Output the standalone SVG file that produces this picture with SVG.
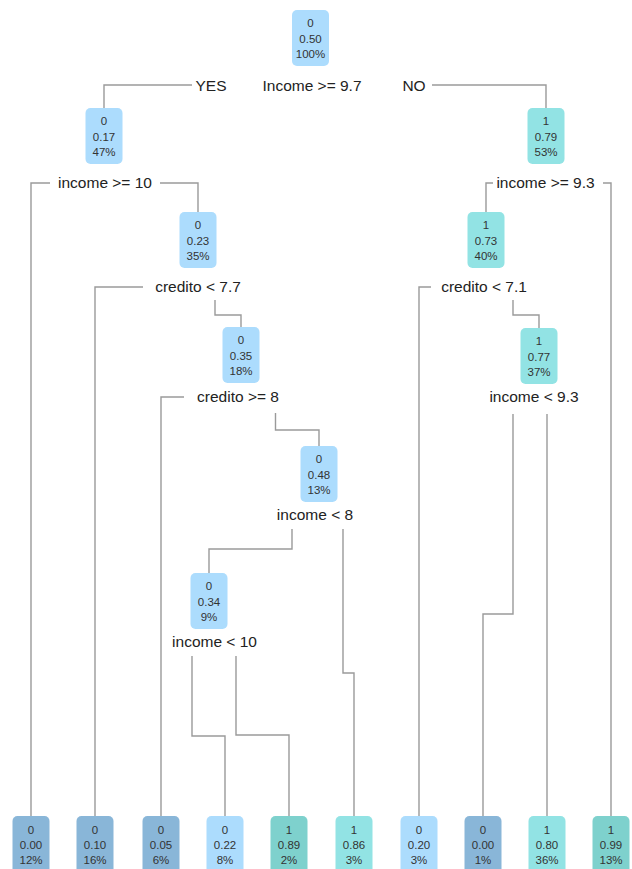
<svg xmlns="http://www.w3.org/2000/svg" width="632" height="869" viewBox="0 0 632 869">
<style>
.b{stroke:none}
.lb{fill:#ACDCFD}
.db{fill:#89B6D8}
.cy{fill:#92E3E4}
.tl{fill:#7ED1CD}
.nt{font-family:"Liberation Sans",Arial,sans-serif;font-size:11.5px;fill:#333;text-anchor:middle}
.sl{font-family:"Liberation Sans",Arial,sans-serif;font-size:15.5px;fill:#222;text-anchor:middle}
.c{fill:none;stroke:#9a9a9a;stroke-width:1.4}
</style>
<rect width="632" height="869" fill="#fff"/>
<g id="connectors">
<path class="c" d="M192,85H104V108"/>
<path class="c" d="M432,85H546V108"/>
<path class="c" d="M50,183H31V816"/>
<path class="c" d="M160,183H198V212"/>
<path class="c" d="M143,287H95V816"/>
<path class="c" d="M215,300V315H241V327"/>
<path class="c" d="M184,397H161V816"/>
<path class="c" d="M275.5,413V430H319V446"/>
<path class="c" d="M292,529V549H209V573"/>
<path class="c" d="M343,529V673H354V816"/>
<path class="c" d="M192,656V736H225V816"/>
<path class="c" d="M236,656V735H289V816"/>
<path class="c" d="M493,183H486V212"/>
<path class="c" d="M603,183H611V816"/>
<path class="c" d="M431,287H419V816"/>
<path class="c" d="M513,300V315H539V328"/>
<path class="c" d="M513,414V614H483V816"/>
<path class="c" d="M547,414V816"/>
</g>
<g id="labels">
<text class="sl" x="211" y="91">YES</text>
<text class="sl" x="312" y="91">Income &gt;= 9.7</text>
<text class="sl" x="414" y="91">NO</text>
<text class="sl" x="105" y="188">income &gt;= 10</text>
<text class="sl" x="198" y="292">credito &lt; 7.7</text>
<text class="sl" x="238" y="402">credito &gt;= 8</text>
<text class="sl" x="315" y="520">income &lt; 8</text>
<text class="sl" x="214.5" y="647">income &lt; 10</text>
<text class="sl" x="545.5" y="188">income &gt;= 9.3</text>
<text class="sl" x="484" y="292">credito &lt; 7.1</text>
<text class="sl" x="534" y="402">income &lt; 9.3</text>
</g>
<g id="n1"><rect class="b lb" x="292" y="10" width="37" height="56" rx="5"/><text class="nt" x="310.5" y="27">0</text><text class="nt" x="310.5" y="43">0.50</text><text class="nt" x="310.5" y="58">100%</text></g>
<g id="n2"><rect class="b lb" x="85.5" y="108" width="37" height="56" rx="5"/><text class="nt" x="104" y="125">0</text><text class="nt" x="104" y="141">0.17</text><text class="nt" x="104" y="156">47%</text></g>
<g id="n5"><rect class="b lb" x="179.5" y="212" width="37" height="56" rx="5"/><text class="nt" x="198" y="229">0</text><text class="nt" x="198" y="245">0.23</text><text class="nt" x="198" y="260">35%</text></g>
<g id="n11"><rect class="b lb" x="222.5" y="327" width="37" height="56" rx="5"/><text class="nt" x="241" y="344">0</text><text class="nt" x="241" y="360">0.35</text><text class="nt" x="241" y="375">18%</text></g>
<g id="n23"><rect class="b lb" x="300.5" y="446" width="37" height="56" rx="5"/><text class="nt" x="319" y="463">0</text><text class="nt" x="319" y="479">0.48</text><text class="nt" x="319" y="494">13%</text></g>
<g id="n46"><rect class="b lb" x="190.5" y="573" width="37" height="56" rx="5"/><text class="nt" x="209" y="590">0</text><text class="nt" x="209" y="606">0.34</text><text class="nt" x="209" y="621">9%</text></g>
<g id="n3"><rect class="b cy" x="527.5" y="108" width="37" height="56" rx="5"/><text class="nt" x="546" y="125">1</text><text class="nt" x="546" y="141">0.79</text><text class="nt" x="546" y="156">53%</text></g>
<g id="n6"><rect class="b cy" x="467.5" y="212" width="37" height="56" rx="5"/><text class="nt" x="486" y="229">1</text><text class="nt" x="486" y="245">0.73</text><text class="nt" x="486" y="260">40%</text></g>
<g id="n13"><rect class="b cy" x="520.5" y="328" width="37" height="56" rx="5"/><text class="nt" x="539" y="345">1</text><text class="nt" x="539" y="361">0.77</text><text class="nt" x="539" y="376">37%</text></g>
<g id="leaf1"><rect class="b db" x="12.5" y="816" width="37" height="60" rx="5"/><text class="nt" x="31" y="833.5">0</text><text class="nt" x="31" y="849">0.00</text><text class="nt" x="31" y="864">12%</text></g>
<g id="leaf2"><rect class="b db" x="76.5" y="816" width="37" height="60" rx="5"/><text class="nt" x="95" y="833.5">0</text><text class="nt" x="95" y="849">0.10</text><text class="nt" x="95" y="864">16%</text></g>
<g id="leaf3"><rect class="b db" x="142.5" y="816" width="37" height="60" rx="5"/><text class="nt" x="161" y="833.5">0</text><text class="nt" x="161" y="849">0.05</text><text class="nt" x="161" y="864">6%</text></g>
<g id="leaf4"><rect class="b lb" x="206.5" y="816" width="37" height="60" rx="5"/><text class="nt" x="225" y="833.5">0</text><text class="nt" x="225" y="849">0.22</text><text class="nt" x="225" y="864">8%</text></g>
<g id="leaf5"><rect class="b tl" x="270.5" y="816" width="37" height="60" rx="5"/><text class="nt" x="289" y="833.5">1</text><text class="nt" x="289" y="849">0.89</text><text class="nt" x="289" y="864">2%</text></g>
<g id="leaf6"><rect class="b cy" x="335.5" y="816" width="37" height="60" rx="5"/><text class="nt" x="354" y="833.5">1</text><text class="nt" x="354" y="849">0.86</text><text class="nt" x="354" y="864">3%</text></g>
<g id="leaf7"><rect class="b lb" x="400.5" y="816" width="37" height="60" rx="5"/><text class="nt" x="419" y="833.5">0</text><text class="nt" x="419" y="849">0.20</text><text class="nt" x="419" y="864">3%</text></g>
<g id="leaf8"><rect class="b db" x="464.5" y="816" width="37" height="60" rx="5"/><text class="nt" x="483" y="833.5">0</text><text class="nt" x="483" y="849">0.00</text><text class="nt" x="483" y="864">1%</text></g>
<g id="leaf9"><rect class="b cy" x="528.5" y="816" width="37" height="60" rx="5"/><text class="nt" x="547" y="833.5">1</text><text class="nt" x="547" y="849">0.80</text><text class="nt" x="547" y="864">36%</text></g>
<g id="leaf10"><rect class="b tl" x="592.5" y="816" width="37" height="60" rx="5"/><text class="nt" x="611" y="833.5">1</text><text class="nt" x="611" y="849">0.99</text><text class="nt" x="611" y="864">13%</text></g>
</svg>
